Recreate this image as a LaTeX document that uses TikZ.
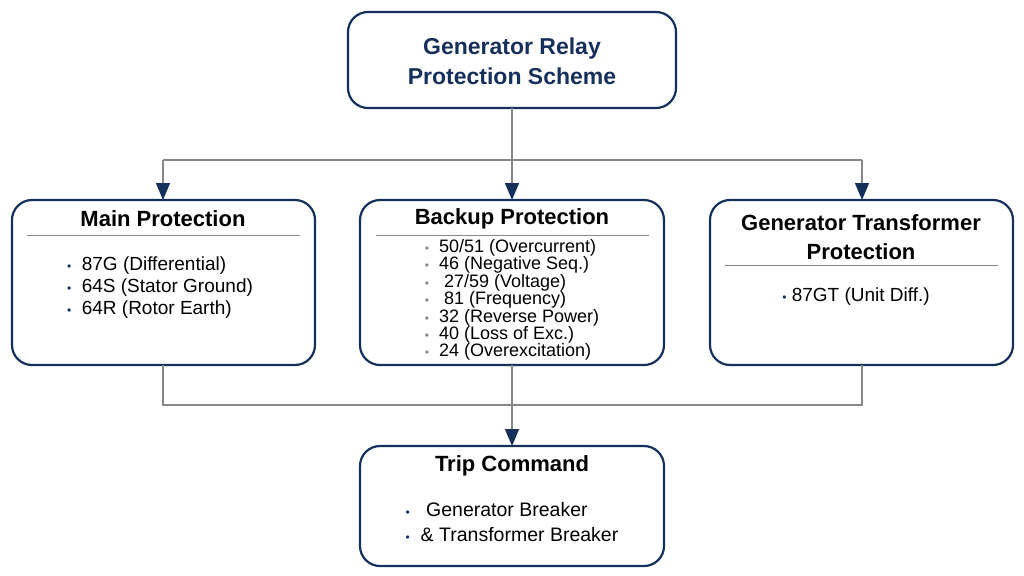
\documentclass[tikz,border=0pt]{standalone}
\usepackage{fontspec}
\setmainfont{Liberation Sans}
\usetikzlibrary{arrows.meta}
\definecolor{navy}{RGB}{22,48,92}
\definecolor{ln}{RGB}{135,135,135}
\newcommand{\bl}[1]{\textcolor{#1}{\large•}}
\begin{document}
\begin{tikzpicture}[x=1pt,y=-1pt,
 box/.style={draw=navy,line width=2.2pt,rounded corners=20pt,fill=white},
 ttl/.style={font=\bfseries\fontsize{22}{29}\selectfont,align=center},
 itm/.style={font=\fontsize{19}{22}\selectfont,align=left,anchor=north},
 conn/.style={draw=ln,line width=1.6pt},
 arr/.style={conn,-{Triangle[width=14pt,length=17pt,fill=navy,color=navy]}}]
\useasboundingbox (0,0) rectangle (1024,575);
\draw[box] (348,12) rectangle (676,108);
\node[ttl,text=navy,font=\bfseries\fontsize{23}{30}\selectfont] (top) at (512,61) {Generator Relay\\Protection Scheme};
\draw[box] (12,200) rectangle (315,365);
\draw[box] (360,200) rectangle (664,365);
\draw[box] (710,200) rectangle (1013,365);
\draw[box] (360,446) rectangle (664,566);
\coordinate (mb) at (163,365); \coordinate (bb) at (512,365); \coordinate (gb) at (862,365);
\node[ttl] (mt) at (163,219) {Main Protection};
\node[ttl] (bt) at (512,219) {Backup Protection};
\node[ttl] (gt) at (861,237) {Generator Transformer\\Protection};
\node[ttl] (tt) at (512,466) {Trip Command};
\draw[ln,line width=0.8pt] (27,235)--(300,235) (376,235)--(649,235) (725,265)--(998,265);
\node[itm] (mi) at (160,253) {\bl{navy}\ \ 87G (Differential)\\\bl{navy}\ \ 64S (Stator Ground)\\\bl{navy}\ \ 64R (Rotor Earth)};
\node[itm,font=\fontsize{18}{17.4}\selectfont] (bi) at (512,236) {\bl{ln}\ \ 50/51 (Overcurrent)\\\bl{ln}\ \ 46 (Negative Seq.)\\\bl{ln}\ \ \ 27/59 (Voltage)\\\bl{ln}\ \ \ 81 (Frequency)\\\bl{ln}\ \ 32 (Reverse Power)\\\bl{ln}\ \ 40\ (Loss of Exc.)\\\bl{ln}\ \ 24 (Overexcitation)};
\node[itm] (gi) at (856,284) {\bl{navy}\ 87GT (Unit Diff.)};
\node[itm,font=\fontsize{19.5}{25}\selectfont] (ti) at (512,499) {\bl{navy}\ \ \ Generator Breaker\\\bl{navy}\ \ \& Transformer Breaker};
\coordinate (j1) at (512,160); \coordinate (j2) at (512,405);
\draw[conn] (top.south|-0,108) -- (j1);
\draw[conn] (163,160) -- (862,160);
\draw[arr] (163,160) -- (163,200);
\draw[arr] (j1) -- (512,200);
\draw[arr] (862,160) -- (862,200);
\draw[conn] (mb) -- (163,405) -- (862,405) -- (gb);
\draw[arr] (bb) -- (512,446);
\end{tikzpicture}
\end{document}
